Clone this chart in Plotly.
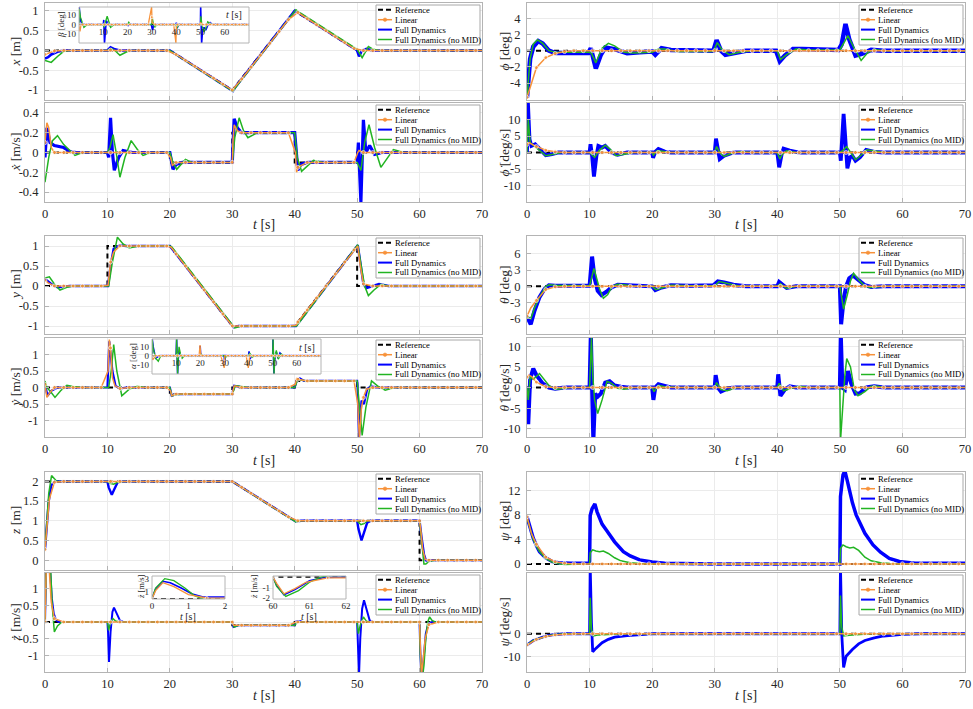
import plotly.graph_objects as go

FONT = "Liberation Serif"
W, H = 973, 709
BLACK = "#000000"
ORANGE = "#f7923a"
BLUE = "#0000ff"
GREEN = "#22b422"
GRID = "#ebebeb"
AXC = "#b4b4b4"
TXT = "#262626"

# ---------------- data ----------------
LIN_T = [0, 1.5, 3, 4.5, 6, 7.5, 9, 10.5, 12, 13.5,
         15, 16.5, 18, 19.5, 21, 22.5, 24, 25.5, 27, 28.5,
         30, 31.5, 33, 34.5, 36, 37.5, 39, 40.5, 42, 43.5,
         45, 46.5, 48, 49.5, 51, 52.5, 54, 55.5, 57, 58.5,
         60, 61.5, 63, 64.5, 66, 67.5, 69]

# x [m]
X_REF = [(0, 0), (20, 0), (30, -1), (40, 1), (50, 0), (70, 0)]
X_FULL = [(0, -0.2), (0.5, -0.17), (1, -0.1), (2, -0.03), (3, 0), (10, 0), (10.5, 0.08), (11.2, 0.03),
          (12, 0), (20, 0), (30.1, -1.02), (30.6, -0.9), (40, 1.0), (40.3, 0.98), (50, 0), (50.3, -0.15),
          (50.8, 0.0), (51.5, 0.04), (52.5, 0), (70, 0)]
X_NOMID = [(0, -0.25), (1, -0.3), (2, -0.15), (3, -0.02), (4, 0), (10, 0), (10.6, 0.05), (11.2, 0),
           (12, -0.12), (12.8, -0.05), (13.5, 0), (20, 0), (30.1, -1.03), (30.7, -0.9), (40.2, 1.03),
           (40.7, 0.97), (50, 0.03), (50.8, -0.18), (51.8, 0.1), (52.6, 0.03), (53.5, 0), (70, 0)]
X_LIN = [-0.1, -0.01, 0, 0, 0, 0, 0, 0.01, 0, 0,
         0, 0, 0, 0, -0.1, -0.25, -0.4, -0.55, -0.7, -0.85,
         -1.0, -0.72, -0.42, -0.12, 0.18, 0.48, 0.78, 0.96, 0.8, 0.65,
         0.5, 0.35, 0.2, 0.05, 0, 0, 0, 0, 0, 0,
         0, 0, 0, 0, 0, 0, 0]
X_LIN_EXTRA = []

# x-dot [m/s]
XD_REF = [(0, 0), (20, 0), (20, -0.1), (30, -0.1), (30, 0.2), (40, 0.2), (40, -0.1), (50, -0.1), (50, 0), (70, 0)]
XD_FULL = [(0, -0.05), (0.3, 0.25), (0.8, 0.1), (1.5, 0.07), (3, 0.05), (4, 0.01), (5, 0), (10, 0),
           (10.2, -0.05), (10.5, 0.35), (10.8, 0.0), (11.1, -0.18), (11.8, -0.05), (12.5, 0.02), (14, 0),
           (20, 0), (20.5, -0.17), (21, -0.12), (22, -0.1), (30, -0.1), (30.3, 0.34), (30.8, 0.25),
           (31.5, 0.2), (40, 0.2), (40.5, -0.18), (41, -0.12), (42, -0.1), (50, -0.1), (50.2, 0.1),
           (50.6, -0.5), (51.0, 0.33), (51.4, 0.0), (52.0, 0.07), (52.8, -0.02), (54, 0), (70, 0)]
XD_NOMID = [(0, -0.3), (0.6, -0.05), (1.2, 0.12), (2.0, 0.17), (3.0, 0.08), (4.8, -0.03), (6, 0), (10, 0),
            (10.4, 0.05), (10.9, 0.18), (11.4, 0.0), (12.0, -0.25), (12.8, -0.05), (13.8, 0.12),
            (14.8, 0.03), (15.7, -0.03), (17, 0), (20, 0), (20.5, -0.1), (21.1, -0.17), (22.5, -0.07),
            (23.5, -0.1), (30, -0.1), (30.4, 0.15), (31.1, 0.35), (31.8, 0.22), (32.5, 0.15), (34, 0.2),
            (40, 0.2), (40.4, -0.05), (41.1, -0.19), (43, -0.08), (44.5, -0.1), (50, -0.1), (50.6, -0.18),
            (51.2, 0.1), (51.9, 0.28), (52.8, 0.05), (53.8, -0.15), (55.8, 0.03), (57.5, 0), (70, 0)]
XD_LIN = [0.1, 0, 0, 0, 0, 0, 0, 0, 0, 0,
          0, 0, 0, 0, -0.1, -0.1, -0.1, -0.1, -0.1, -0.1,
          -0.1, 0.2, 0.2, 0.2, 0.2, 0.2, 0.2, -0.15, -0.1, -0.1,
          -0.1, -0.1, -0.1, -0.1, 0, 0, 0, 0, 0, 0,
          0, 0, 0, 0, 0, 0, 0]
XD_LIN_EXTRA = [(0.3, 0.3), (0.6, 0.25), (1.0, 0.05), (20.1, -0.05), (20.4, -0.13), (30.1, 0.1),
                (30.3, 0.28), (30.8, 0.22), (40.1, 0.0), (40.3, -0.2), (50.1, 0.0), (50.3, 0.02)]

# y [m]
Y_REF = [(0, 0), (10, 0), (10, 1), (20, 1), (30, -1), (40, -1), (50, 1), (50, 0), (70, 0)]
Y_FULL = [(0, 0.18), (0.5, 0.12), (1, 0.05), (2, -0.03), (3, -0.02), (4, 0), (10.1, 0), (10.5, 0.5),
          (11, 0.93), (12, 1.02), (13, 1.0), (20, 1.0), (30.2, -1.03), (31, -1.0), (40.2, -1.0),
          (50.1, 1.02), (50.5, 0.6), (51, 0.05), (51.5, -0.05), (52.5, 0.0), (53.5, 0.05), (55, 0), (70, 0)]
Y_NOMID = [(0, 0.2), (0.7, 0.23), (1.5, 0.05), (2.4, -0.1), (3.5, -0.03), (4.5, 0), (10.2, 0),
           (10.8, 0.6), (11.6, 1.22), (12.5, 1.05), (13.5, 0.95), (15, 1.0), (20, 1.0), (20.3, 0.98),
           (30.4, -1.05), (31.5, -1.0), (40.3, -1.0), (50.1, 1.03), (50.6, 0.55), (51.2, 0.0),
           (51.8, -0.24), (52.7, -0.1), (53.8, 0.04), (55, 0), (70, 0)]
Y_LIN = [0.15, 0, 0, 0, 0, 0, 0, 0.6, 1.0, 1.0,
         1.0, 1.0, 1.0, 1.0, 0.8, 0.5, 0.2, -0.1, -0.4, -0.7,
         -1.0, -1.0, -1.0, -1.0, -1.0, -1.0, -1.0, -0.9, -0.6, -0.3,
         0.0, 0.3, 0.6, 0.9, 0.05, 0, 0, 0, 0, 0,
         0, 0, 0, 0, 0, 0, 0]
Y_LIN_EXTRA = [(0.5, 0.08), (10.1, 0.02), (11, 0.85), (20.2, 0.97), (40.2, -0.98), (50.1, 1.0), (50.5, 0.5)]

# y-dot [m/s]
YD_REF = [(0, 0), (20, 0), (20, -0.2), (30, -0.2), (30, 0), (40, 0), (40, 0.2), (50, 0.2), (50, 0), (70, 0)]
YD_FULL = [(0, 0.1), (0.4, -0.25), (1, -0.1), (2, 0), (10, 0), (10.3, 1.4), (10.8, 0.5), (11.3, 0.05),
           (12, -0.03), (13, 0), (20, 0), (20.3, -0.25), (21, -0.2), (30, -0.2), (30.3, 0.05), (31, 0.02),
           (32, 0), (40, 0), (40.3, 0.2), (40.8, 0.28), (41.5, 0.2), (50, 0.2), (50.05, 0.1), (50.3, -1.5),
           (50.7, -0.4), (51.1, -0.5), (51.6, -0.05), (52.3, 0.05), (53, 0), (70, 0)]
YD_NOMID = [(0, 0.2), (0.3, 0.0), (1, -0.15), (1.6, -0.3), (2.5, -0.1), (3.5, 0.07), (4.5, 0.03), (6, 0),
            (10.2, 0), (10.6, 0.5), (11, 1.3), (11.5, 0.5), (12.3, -0.25), (13.5, -0.05), (14.8, 0.04),
            (16, 0), (20, 0), (20.3, -0.25), (21, -0.22), (22, -0.2), (30, -0.2), (30.5, 0.05),
            (31.5, 0.03), (32.5, 0), (40, 0), (40.5, 0.25), (41.2, 0.22), (42, 0.2), (50, 0.2),
            (50.5, -1.0), (50.8, -1.45), (51.4, -0.6), (52.3, 0.2), (53.4, 0.03), (54.5, -0.08), (56, 0), (70, 0)]
YD_LIN = [0.1, 0, 0, 0, 0, 0, 0, 1.2, -0.03, 0,
          0, 0, 0, 0, -0.2, -0.2, -0.2, -0.2, -0.2, -0.2,
          -0.2, 0, 0, 0, 0, 0, 0, 0.25, 0.2, 0.2,
          0.2, 0.2, 0.2, 0.2, -0.3, 0, 0, 0, 0, 0,
          0, 0, 0, 0, 0, 0, 0]
YD_LIN_EXTRA = [(0.3, -0.3), (0.8, -0.15), (10.1, 0.5), (10.3, 1.45), (10.8, 0.3), (11.2, 0.05),
                (20.1, -0.1), (20.3, -0.25), (30.1, -0.1), (30.3, 0.05), (40.1, 0.1), (40.3, 0.27),
                (50.1, -0.5), (50.35, -1.55), (50.7, -0.6), (51.5, -0.05)]

# z [m]
Z_REF = [(0, 2), (30, 2), (40, 1), (60, 1), (60, 0), (70, 0)]
Z_FULL = [(0, 0.27), (0.3, 0.8), (0.6, 1.5), (1, 1.9), (1.5, 1.98), (2, 2.0), (10, 2.0), (10.2, 1.85),
          (10.7, 1.66), (11.1, 1.8), (11.6, 1.97), (12.2, 2.0), (30, 2.0), (40.2, 0.98), (41, 1.0),
          (50, 1.0), (50.2, 0.8), (50.7, 0.5), (51.1, 0.7), (51.6, 0.95), (52.2, 1.0), (60, 1.0),
          (60.3, 0.6), (60.7, 0.15), (61, 0.0), (61.5, -0.02), (62, 0), (70, 0)]
Z_NOMID = [(0, 0.27), (0.3, 1.0), (0.6, 1.7), (1.05, 2.15), (1.4, 2.08), (1.9, 2.0), (10, 2.0),
           (10.4, 1.95), (11, 1.93), (11.5, 1.97), (12.5, 2.0), (30, 2.0), (40.2, 0.97), (41, 1.0),
           (50, 1.0), (50.6, 0.9), (51.1, 0.93), (51.6, 1.0), (60, 1.0), (60.3, 0.5), (60.7, -0.1),
           (61, -0.1), (61.5, -0.03), (62.5, 0), (70, 0)]
Z_LIN = [0.27, 1.98, 2, 2, 2, 2, 2, 2, 2, 2,
         2, 2, 2, 2, 2, 2, 2, 2, 2, 2,
         2, 1.85, 1.7, 1.55, 1.4, 1.25, 1.1, 1.0, 1, 1,
         1, 1, 1, 1, 1, 1, 1, 1, 1, 1,
         1, 0, 0, 0, 0, 0, 0]
Z_LIN_EXTRA = [(0.3, 0.9), (0.7, 1.55), (60.2, 0.75), (60.5, 0.28), (60.9, 0.02)]

# z-dot [m/s]
ZD_REF = [(0, 0), (30, 0), (30, -0.1), (40, -0.1), (40, 0), (70, 0)]
ZD_FULL = [(0, 0), (0.1, 1.5), (0.3, 2.6), (0.5, 2.4), (0.8, 1.6), (1.1, 0.7), (1.4, 0.25), (1.8, 0.05),
           (2.2, 0), (10, 0), (10.1, -0.3), (10.25, -1.2), (10.5, -0.3), (10.8, 0.3), (11.05, 0.43),
           (11.5, 0.25), (12, 0.05), (12.5, 0), (30, 0), (30.2, -0.15), (30.6, -0.12), (31, -0.1),
           (40, -0.1), (40.3, 0.03), (40.8, 0.03), (41.2, 0), (50, 0), (50.1, -0.5), (50.3, -1.6),
           (50.5, -0.5), (50.8, 0.4), (51.1, 0.65), (51.5, 0.35), (52, 0.05), (52.5, 0), (60, 0),
           (60.1, -0.8), (60.3, -1.7), (60.6, -1.2), (61, -0.35), (61.4, -0.05), (62, 0), (70, 0)]
ZD_NOMID = [(0, 0), (0.1, 1.6), (0.35, 3.0), (0.6, 2.7), (0.9, 1.6), (1.15, 0.5), (1.5, -0.3),
            (2.0, -0.12), (2.7, 0), (10, 0), (10.2, -0.25), (10.5, 0), (10.9, 0.1), (11.3, 0.03), (12, 0),
            (30, 0), (30.3, -0.15), (31, -0.1), (40, -0.1), (40.4, 0.0), (50, 0), (50.2, -0.35),
            (50.5, -0.1), (51, 0.15), (51.5, 0.02), (52, 0), (60, 0), (60.1, -0.9), (60.35, -1.85),
            (60.7, -1.3), (61, -0.5), (61.3, 0.0), (61.6, 0.15), (62, 0.05), (62.5, 0), (70, 0)]
ZD_LIN = [0, 0.1, 0, 0, 0, 0, 0, 0, 0, 0,
          0, 0, 0, 0, 0, 0, 0, 0, 0, 0,
          0, -0.1, -0.1, -0.1, -0.1, -0.1, -0.1, 0, 0, 0,
          0, 0, 0, 0, 0, 0, 0, 0, 0, 0,
          0, -0.08, 0, 0, 0, 0, 0]
ZD_LIN_EXTRA = [(0.1, 1.2), (0.3, 2.4), (0.6, 1.8), (1.0, 0.6), (30.2, -0.1), (40.2, 0), (60.1, -0.6),
                (60.3, -1.6), (60.6, -1.1), (60.9, -0.5)]

# phi [deg]
PHI_REF = [(0, 0), (70, 0)]
PHI_FULL = [(0, -5.8), (0.2, -3.5), (0.5, -1.0), (1.0, 0.5), (1.8, 1.2), (2.5, 0.9), (3.5, 0.0), (4.5, -0.3),
            (9.8, -0.3), (10.2, 0.3), (11.0, -2.2), (11.8, -0.5), (12.5, 0.4), (14, 0.2), (16, -0.3),
            (18, -0.2), (20, -0.1), (20.5, -0.5), (21.5, 0.3), (23, 0.1), (29.8, 0), (30.3, 1.3), (31, 0.0),
            (31.7, -0.5), (33, -0.3), (35, 0.0), (39.8, 0.0), (40.4, -1.3), (41.2, -0.6), (42.5, 0.2),
            (44, 0.2), (49.8, 0.1), (50.3, 0.8), (50.9, 3.3), (51.5, 1.4), (52.5, -0.6), (53.5, -0.4),
            (55, 0.1), (57, 0.0), (70, 0.0)]
PHI_NOMID = [(0, -5.8), (0.2, -3.5), (0.5, -1.0), (1.0, 0.8), (1.7, 1.35), (2.5, 0.9), (3.5, 0.0),
             (4.5, -0.2), (10, -0.2), (10.3, -0.3), (11.0, -1.5), (12, 0.3), (13, 0.9), (14, 0.6),
             (15.5, -0.2), (17, -0.3), (20, -0.2), (21, 0.2), (22, 0.2), (24, -0.1), (29.8, -0.1),
             (30.4, 1.0), (31.2, 0.1), (32.3, -0.5), (34, -0.2), (36, 0.0), (40, 0.0), (40.5, -1.1),
             (41.5, -0.5), (43, 0.2), (45, 0.1), (50, 0.1), (51.3, 1.85), (52.3, 0.3), (53.4, -1.2),
             (54.5, -0.2), (55.5, 0.15), (57, 0.0), (70, 0.0)]
PHI_LIN = [-5.8, -2.1, -0.85, -0.35, -0.1, 0, 0, 0, 0, 0,
           0, 0, 0, 0, 0, 0, 0, 0, 0, 0,
           0, 0, 0, 0, 0, 0, 0, 0, 0, 0,
           0, 0, 0, 0, 0, 0, 0, 0, 0, 0,
           0, 0, 0, 0, 0, 0, 0]
PHI_LIN_EXTRA = [(0.6, -4.2)]

# phi-dot [deg/s]
PHID_REF = [(0, 0), (70, 0)]
PHID_FULL = [(0, 0), (0.15, 15), (0.4, 4), (0.7, 2), (1.3, 2.5), (2, 1), (3, -0.8), (4, -0.5), (5, 0),
             (10, 0), (10.15, 2.5), (10.4, -1), (10.7, -7.3), (11.1, -1), (11.4, 2), (12, 1.5), (12.5, 2),
             (13.5, 0), (14.5, -0.7), (16, 0), (20, 0), (20.15, -1.6), (20.5, 0.2), (21, 1.1), (22, 0.3),
             (23, 0), (30, 0), (30.2, 4.2), (30.5, 0.5), (30.8, -2.0), (31.5, -1), (33, 0), (40, 0),
             (40.3, -4.5), (40.7, -0.5), (41, 1.2), (42, 0.6), (43.5, 0), (50, 0), (50.15, -2.5),
             (50.6, 11.7), (51.2, -4.8), (51.6, -1.5), (52, -1.0), (52.5, -2.5), (53.2, -1.5), (54.2, 0.8),
             (55.5, 0.2), (57, 0), (70, 0)]
PHID_NOMID = [(0, 0), (0.2, 10), (0.5, 3), (1, 2.2), (2, 0.5), (3, -1.0), (4, -0.6), (5.5, 0), (10, 0),
              (10.3, -0.5), (10.8, -1.5), (11.5, 0.5), (12.5, 2.2), (13.3, 1), (14.2, -1.0), (15.5, -0.5),
              (17, 0), (20, 0), (20.2, -0.8), (20.8, 0.6), (21.5, 0.4), (23, 0), (30, 0), (30.3, 1.8),
              (30.8, 0), (31.5, -1.2), (32.5, -0.4), (34, 0.2), (36, 0), (40, 0), (40.4, -2.0),
              (40.8, -0.5), (41.5, 0.5), (43, 0), (50, 0), (50.4, 0.5), (51.1, 1.8), (51.6, 0.5),
              (52.5, -2.2), (53.3, -1.0), (54.3, 0.8), (55.3, 0.5), (57, 0), (70, 0)]
PHID_LIN = [2.5, 1.8, 0.7, 0.2, 0, 0, 0, 0, 0, 0,
            0, 0, 0, 0, 0, 0, 0, 0, 0, 0,
            0, 0, 0, 0, 0, 0, 0, 0, 0, 0,
            0, 0, 0, 0, 0, 0, 0, 0, 0, 0,
            0, 0, 0, 0, 0, 0, 0]
PHID_LIN_EXTRA = [(0.3, 3.0), (0.8, 2.5)]

# theta [deg]
TH_REF = [(0, 0), (70, 0)]
TH_FULL = [(0, -5.6), (0.6, -7.0), (1.2, -4.5), (2, -2), (2.8, -0.5), (3.5, 0.2), (4.5, 0.1), (10, 0.1),
           (10.4, 5.5), (10.8, 1.5), (11.3, -0.8), (11.9, -1.6), (12.7, -1.0), (13.5, -0.2), (14.5, 0.3),
           (16, 0.2), (18, 0), (20, 0), (20.5, -0.7), (21.5, -0.2), (23, 0.2), (26, 0.1), (29.8, 0.2),
           (30.5, 0.9), (31.5, 0.7), (33, 0.3), (35, 0), (40, 0), (40.3, 0.8), (41, 0.1), (41.5, -0.3),
           (43, 0), (50, 0), (50.2, -7.0), (50.6, -2.5), (51.0, 0.0), (51.5, 1.5), (52.1, 2.0), (53, 1.2),
           (54, 0.2), (55, -0.1), (57, 0), (70, 0)]
TH_NOMID = [(0, -5.6), (0.6, -6), (1.2, -4), (2, -2), (3, 0.0), (3.6, 0.3), (4.5, 0.2), (10, 0.1),
            (10.7, 3.3), (11.1, 1.5), (11.6, -0.5), (12.2, -2.2), (12.9, -1.5), (13.6, 0), (14.5, 0.4),
            (15.5, 0.3), (17, 0), (20, 0), (20.6, -0.6), (21.5, -0.3), (23, 0.2), (26, 0.1), (30, 0.1),
            (30.7, 0.9), (32, 0.5), (34, 0), (40, 0), (40.5, 0.5), (41.5, -0.4), (43, 0), (50, 0),
            (50.3, -2.0), (50.6, -4.2), (51.2, -1.5), (51.7, 1.0), (52.2, 2.4), (53, 1.2), (54, 0.0),
            (55, -0.2), (57, 0), (70, 0)]
TH_LIN = [-5.5, -2.6, -0.6, -0.1, 0, 0, 0, 0, 0, 0,
          0, 0, 0, 0, 0, 0, 0, 0, 0, 0,
          0, 0, 0, 0, 0, 0, 0, 0, 0, 0,
          0, 0, 0, 0, 0, 0, 0, 0, 0, 0,
          0, 0, 0, 0, 0, 0, 0]
TH_LIN_EXTRA = [(0.6, -4.0)]

# theta-dot [deg/s]
THD_REF = [(0, 0), (70, 0)]
THD_FULL = [(0, 0), (0.2, -8.9), (0.5, 2), (1.0, 4.6), (1.5, 3), (2.5, 1.0), (3.5, 0), (4.5, -0.3), (6, 0),
            (10, 0), (10.2, 13), (10.35, 0), (10.6, -13), (10.9, -1.5), (11.3, -2.2), (11.8, -1.5),
            (12.5, 1.2), (13.2, 1.5), (14, 0.5), (15, 0.2), (16, 0), (20, 0), (20.2, -3), (20.5, 0),
            (21, 0.8), (22, 0.4), (23, 0), (30, 0), (30.15, 3.0), (30.5, 0), (31, -1.0), (32, -0.3),
            (33, 0), (40, 0), (40.15, 3.2), (40.5, -2.0), (41.2, -0.5), (42, 0.3), (43, 0), (50, 0),
            (50.15, 13), (50.4, 0), (50.8, -0.5), (51.3, 4), (51.8, 1), (52.5, -1.5), (53.2, -1.4),
            (54.2, 0), (55.5, 0.3), (57, 0), (70, 0)]
THD_NOMID = [(0, 0), (0.2, -3), (0.5, 2.5), (1.0, 2.0), (2.0, 3.4), (2.5, 2.5), (3.5, 0.5), (4.5, -0.5),
             (6, -0.3), (7, 0), (10, 0), (10.15, 8), (10.3, 12), (10.5, 3), (10.8, -3), (11.3, -6.3),
             (12, -3), (12.8, 1.5), (13.5, 1.0), (14.5, -0.2), (15.5, -0.4), (17, 0), (20, 0),
             (20.3, -1.0), (21, 0.5), (22, 0.2), (24, 0), (30, 0), (30.3, 1.2), (31, -0.5), (32, -0.8),
             (33.5, 0), (40, 0), (40.3, 1.0), (41, -0.8), (42, -0.3), (43.5, 0.3), (45, 0), (50, 0),
             (50.1, -13), (50.4, -5), (50.8, 3), (51.1, 7), (51.7, 5), (52.3, -0.5), (52.9, -2.0),
             (54, -1.0), (55, 0.3), (56, 0.3), (57, 0), (70, 0)]
THD_LIN = [2.5, 1.3, 0.2, 0, 0, 0, 0, 0, 0, 0,
           0, 0, 0, 0, 0, 0, 0, 0, 0, 0,
           0, 0, 0, 0, 0, 0, 0, 0, 0, 0,
           0, 0, 0, 0, 0, 0, 0, 0, 0, 0,
           0, 0, 0, 0, 0, 0, 0]
THD_LIN_EXTRA = [(0.3, 3.0), (0.8, 2.6)]

# psi [deg]
PSI_REF = [(0, 0), (70, 0)]
PSI_FULL = [(0, 7.7), (0.5, 5.8), (1, 4.2), (1.5, 3.0), (2, 2.0), (3, 1.0), (4, 0.4), (5, 0.2), (7, 0.1),
            (10, 0.1), (10.1, 7.9), (10.4, 9.0), (10.85, 9.8), (11.2, 8.5), (12, 6.5), (12.7, 5.5),
            (14, 3.6), (15.4, 2.0), (16.5, 1.3), (18, 0.65), (20, 0.3), (22, 0.1), (30, 0), (50, 0),
            (50.1, 11), (50.5, 14.5), (50.8, 15.2), (51.2, 13.5), (52, 10), (52.6, 8.0), (54, 5.0),
            (55.3, 3.1), (56.5, 1.9), (57.9, 0.9), (59.5, 0.4), (62, 0.1), (70, 0.1)]
PSI_NOMID = [(0, 7.5), (0.5, 5.6), (1, 4.0), (1.5, 2.9), (2, 2.0), (3, 0.9), (4, 0.3), (5, 0), (6, -0.1),
             (10, 0), (10.1, 1.8), (10.5, 2.3), (11, 2.1), (11.6, 2.0), (12.2, 2.1), (13, 1.7), (14, 1.0),
             (15, 0.5), (16.5, 0.2), (18, 0.05), (20, 0), (50, 0), (50.1, 2.5), (50.5, 3.1), (51, 2.8),
             (51.6, 2.6), (52.2, 2.7), (53, 2.2), (54, 1.1), (55, 0.5), (56.5, 0.2), (58, 0.05), (60, 0),
             (70, 0)]
PSI_LIN = [7.7, 3.2, 1.1, 0.35, 0.1, 0, 0, 0, 0, 0,
           0, 0, 0, 0, 0, 0, 0, 0, 0, 0,
           0, 0, 0, 0, 0, 0, 0, 0, 0, 0,
           0, 0, 0, 0, 0, 0, 0, 0, 0, 0,
           0, 0, 0, 0, 0, 0, 0]
PSI_LIN_EXTRA = [(0.7, 5.0)]

# psi-dot [deg/s]
PSID_REF = [(0, 0), (70, 0)]
PSID_FULL = [(0, -5), (0.5, -4), (1, -3), (2, -2), (3, -1), (4, -0.5), (6, 0), (10, 0), (10.1, 30),
             (10.3, 5), (10.5, -8), (11, -6.5), (12, -4), (13, -2.5), (14, -1.5), (16, -0.8), (18, -0.3),
             (20, 0), (50, 0), (50.1, 30), (50.3, 0), (50.6, -15), (51, -10), (52, -7), (53, -4.5),
             (54, -3), (55.5, -1.8), (57, -1), (60, -0.3), (63, 0), (70, 0)]
PSID_NOMID = [(0, -5), (0.5, -4), (1, -3), (2, -2), (3, -1.2), (4, -0.5), (6, 0), (10, 0), (10.1, 16),
              (10.3, 2), (10.6, -1), (11.5, -0.5), (13, -0.3), (15, 0), (50, 0), (50.1, 17), (50.3, 3),
              (50.6, -1), (51.5, -0.7), (53, -0.3), (55, 0), (70, 0)]
PSID_LIN = [-5, -2.5, -1.2, -0.5, -0.2, 0, 0, 0, 0, 0,
            0, 0, 0, 0, 0, 0, 0, 0, 0, 0,
            0, 0, 0, 0, 0, 0, 0, 0, 0, 0,
            0, 0, 0, 0, 0, 0, 0, 0, 0, 0,
            0, 0, 0, 0, 0, 0, 0]
PSID_LIN_EXTRA = []

# beta [deg] (inset of x)
BETA_REF = [(0, 0), (70, 0)]
BETA_FULL = [(0, 0), (0.1, 19), (0.4, 8), (0.8, 3), (1.5, 0.5), (2.5, 0), (10, 0), (10.2, 5), (10.5, -20),
             (10.8, -5), (11.2, 4), (11.8, 2), (12.5, -1), (13.5, 0), (20, 0), (20.3, -1.5), (20.8, 1),
             (21.5, 0), (29.8, 0), (30, -3), (30.3, -6), (30.7, -1), (31.5, 0), (39.8, 0), (40.1, 2),
             (40.4, -4), (41, 0), (50, 0), (50.1, 19), (50.3, 0), (50.5, -20), (50.9, -6), (51.5, -3),
             (52.2, -6), (53, -1), (54, 2), (55, 0), (70, 0)]
BETA_NOMID = [(0, 0), (0.1, 17), (0.6, 8), (1.2, 2), (2, -3), (3, -1), (4, 0), (10, 0), (10.3, -3),
              (10.8, 2), (11.6, 9), (12.3, 3), (13, -3), (14, -1), (15, 0), (20, 0), (20.5, 2.5), (21.2, 0),
              (29.9, 0), (30.2, 7), (30.6, 1), (31.2, -3), (32, 0), (40, 0), (40.3, -4), (40.8, -1),
              (41.5, 0), (50, 0), (50.2, 9), (50.6, 0), (51.4, -8), (52.2, -4), (53, 3), (54, 1), (55, 0),
              (70, 0)]
BETA_LIN = [0, 0, 0, 0, 0, 0, 0, 0, 0, 0,
            0, 0, 0, 0, 0, 0, 0, 0, 0, 0,
            8, 0, 0, 0, 0, 0, 0, 0, 0, 0,
            0, 0, 0, 0, 0, 0, 0, 0, 0, 0,
            0, 0, 0, 0, 0, 0, 0]
BETA_LIN_EXTRA = [(0.4, -7.5), (0.8, -1), (29.9, 19), (30.1, 2), (39.9, -20), (40.1, -2), (50.1, 2)]

# alpha [deg] (inset of y-dot)
ALPHA_REF = [(0, 0), (70, 0)]
ALPHA_FULL = [(0, 0), (0.1, 19), (0.5, 10), (1, 2), (1.5, -3), (2.5, -1), (3.5, 0), (10, 0), (10.2, 19),
              (10.4, 0), (10.6, -21), (10.9, -3), (11.3, 4), (12, 0), (19.8, 0), (19.95, 11), (20.2, 0),
              (29.9, 0), (30.1, -9), (30.4, 0), (40, 0), (40.2, 5), (40.6, -4), (41.2, 0), (50, 0),
              (50.1, 19), (50.3, 0), (50.5, -21), (50.8, -5), (51.5, 4), (52.2, -3), (53, 3), (54, 0), (70, 0)]
ALPHA_NOMID = [(0, 0), (0.1, 18), (0.5, 8), (1.5, -3), (2.6, -6.4), (3.3, -2), (4, 0), (10, 0), (10.2, 19),
               (10.45, 0), (10.6, -21), (10.9, 0), (11.2, 10), (11.8, 2), (12.5, -3), (13.5, 0), (20, 0),
               (20.3, 2), (20.8, 0), (30, 0), (30.3, -3), (31, 0), (40, 0), (40.5, 3), (41.5, -2), (42.5, 0),
               (50, 0), (50.15, 19), (50.35, 0), (50.55, -21), (50.9, 0), (51.5, 6), (52.3, -4), (53.5, 2),
               (54.5, 0), (70, 0)]
ALPHA_LIN = [0, 0, 0, 0, 0, 0, 0, 0, 0, 0,
             0, 0, 0, 0, 0, 0, 0, 0, 0, 0,
             -7, 0, 0, 0, 0, 0, 0, 0, 0, 0,
             0, 0, 0, 0, 0, 0, 0, 0, 0, 0,
             0, 0, 0, 0, 0, 0, 0]
ALPHA_LIN_EXTRA = [(0.3, -5), (19.9, 12), (20.2, 0), (29.9, -14), (30.2, 0), (39.9, -14), (40.2, 0)]

LEGEND_NAMES = ["Reference", "Linear", "Full Dynamics", "Full Dynamics (no MID)"]
T_TICKS = [0, 10, 20, 30, 40, 50, 60, 70]

# ---------------- helpers ----------------
def px(x):
    return x / W


def py(y):
    return 1 - y / H


def split(pairs):
    return [p[0] for p in pairs], [p[1] for p in pairs]


def fmt(v):
    return "%g" % v


def axn(n, k):
    return k if n == 1 else f"{k}{n}"


fig = go.Figure()
shapes = []
annotations = []
layout = {}
GRID_SET = set(LIN_T)


def add_series(n, ref, full, nomid, lin_vals, lin_extra, bw, lw=1.5, mk=4, refw=2):
    xa, ya = axn(n, "x"), axn(n, "y")
    t, v = split(ref)
    fig.add_trace(go.Scatter(x=t, y=v, xaxis=xa, yaxis=ya, mode="lines", showlegend=False, hoverinfo="skip",
                             line=dict(color=BLACK, width=refw, dash="5px,4px")))
    t, v = split(full)
    fig.add_trace(go.Scatter(x=t, y=v, xaxis=xa, yaxis=ya, mode="lines", showlegend=False, hoverinfo="skip",
                             line=dict(color=BLUE, width=bw)))
    t, v = split(nomid)
    fig.add_trace(go.Scatter(x=t, y=v, xaxis=xa, yaxis=ya, mode="lines", showlegend=False, hoverinfo="skip",
                             line=dict(color=GREEN, width=lw)))
    pts = sorted(list(zip(LIN_T, lin_vals)) + list(lin_extra) + [(70, lin_vals[-1])])
    t, v = split(pts)
    sizes = [mk if (tt in GRID_SET) else 0 for tt in t]
    fig.add_trace(go.Scatter(x=t, y=v, xaxis=xa, yaxis=ya, mode="lines+markers", showlegend=False,
                             hoverinfo="skip", line=dict(color=ORANGE, width=lw),
                             marker=dict(color=ORANGE, size=sizes, symbol="circle")))


def add_main_axes(n, xl, xr, yt, yb, yr, yticks, show_x):
    xk = "xaxis" if n == 1 else f"xaxis{n}"
    yk = "yaxis" if n == 1 else f"yaxis{n}"
    layout[xk] = dict(domain=[px(xl), px(xr)], range=[0, 70], anchor=axn(n, "y"), tickvals=T_TICKS,
                      ticktext=[fmt(v) for v in T_TICKS], showticklabels=show_x, showgrid=True,
                      gridcolor=GRID, gridwidth=1, showline=True, mirror=True, linecolor=AXC, linewidth=1,
                      ticks="inside", ticklen=4, tickcolor=AXC, zeroline=False, automargin=False,
                      tickfont=dict(family=FONT, size=12.5, color=TXT), fixedrange=True)
    layout[yk] = dict(domain=[py(yb), py(yt)], range=yr, anchor=axn(n, "x"), tickvals=yticks,
                      ticktext=[fmt(v) for v in yticks], showgrid=True, gridcolor=GRID, gridwidth=1,
                      showline=True, mirror=True, linecolor=AXC, linewidth=1, ticks="inside", ticklen=4,
                      tickcolor=AXC, zeroline=False, ticklabelstandoff=3, automargin=False,
                      tickfont=dict(family=FONT, size=12.5, color=TXT), fixedrange=True)


def add_legend(x_right, y_top):
    x0 = x_right - 106
    x1 = x_right - 2
    shapes.append(dict(type="rect", xref="paper", yref="paper", x0=px(x0), x1=px(x1), y0=py(y_top + 42),
                       y1=py(y_top + 2), line=dict(color="#a8a8a8", width=1), fillcolor="white", layer="above"))
    styles = [(BLACK, "5px,3px", 2), (ORANGE, "solid", 1.5), (BLUE, "solid", 2), (GREEN, "solid", 1.5)]
    for i, name in enumerate(LEGEND_NAMES):
        yy = y_top + 6.8 + 9.9 * i
        col, dash, wdt = styles[i]
        shapes.append(dict(type="line", xref="paper", yref="paper", x0=px(x0 + 2), x1=px(x0 + 16),
                           y0=py(yy), y1=py(yy), line=dict(color=col, width=wdt, dash=dash), layer="above"))
        if name == "Linear":
            shapes.append(dict(type="circle", xref="paper", yref="paper", x0=px(x0 + 7.2), x1=px(x0 + 10.8),
                               y0=py(yy + 1.8), y1=py(yy - 1.8), fillcolor=ORANGE,
                               line=dict(color=ORANGE, width=0.5), layer="above"))
        annotations.append(dict(x=px(x0 + 16.5), y=py(yy), xref="paper", yref="paper", xanchor="left",
                                yanchor="middle", text=name, showarrow=False,
                                font=dict(family=FONT, size=8.6, color="#000")))


def add_ylabel(x, y, text, size=13.5):
    annotations.append(dict(x=px(x), y=py(y), xref="paper", yref="paper", text=text, textangle=-90,
                            showarrow=False, xanchor="center", yanchor="middle",
                            font=dict(family=FONT, size=size, color=TXT)))


def add_text(x, y, text, size=13.5):
    annotations.append(dict(x=px(x), y=py(y), xref="paper", yref="paper", text=text, showarrow=False,
                            xanchor="center", yanchor="middle", font=dict(family=FONT, size=size, color=TXT)))


# ---------------- main panels ----------------
LX0, LX1 = 45, 482
RX0, RX1 = 527, 965
ROWS = [(3, 100), (103, 202), (236, 334), (338, 437), (472, 570), (573, 672)]

PANELS = [
    # n, col, row, ref, full, nomid, lin, extra, yrange, yticks, label, blue width
    (1, 0, 0, X_REF, X_FULL, X_NOMID, X_LIN, X_LIN_EXTRA, [-1.25, 1.2], [-1, -0.5, 0, 0.5, 1], "<i>x</i> [m]", 2.6),
    (2, 0, 1, XD_REF, XD_FULL, XD_NOMID, XD_LIN, XD_LIN_EXTRA, [-0.5, 0.5], [-0.4, -0.2, 0, 0.2, 0.4],
     "<i>x\u0307</i> [m/s]", 3.2),
    (3, 0, 2, Y_REF, Y_FULL, Y_NOMID, Y_LIN, Y_LIN_EXTRA, [-1.2, 1.25], [-1, -0.5, 0, 0.5, 1], "<i>y</i> [m]", 2.4),
    (4, 0, 3, YD_REF, YD_FULL, YD_NOMID, YD_LIN, YD_LIN_EXTRA, [-1.5, 1.5], [-1, -0.5, 0, 0.5, 1],
     "<i>y\u0307</i> [m/s]", 2.2),
    (5, 0, 4, Z_REF, Z_FULL, Z_NOMID, Z_LIN, Z_LIN_EXTRA, [-0.25, 2.24], [0, 0.5, 1, 1.5, 2], "<i>z</i> [m]", 2.4),
    (6, 0, 5, ZD_REF, ZD_FULL, ZD_NOMID, ZD_LIN, ZD_LIN_EXTRA, [-1.5, 1.47], [-1, -0.5, 0, 0.5, 1],
     "<i>z\u0307</i> [m/s]", 2.0),
    (7, 1, 0, PHI_REF, PHI_FULL, PHI_NOMID, PHI_LIN, PHI_LIN_EXTRA, [-6.1, 5.9], [-4, -2, 0, 2, 4],
     "<i>\u03d5</i> [deg]", 4.5),
    (8, 1, 1, PHID_REF, PHID_FULL, PHID_NOMID, PHID_LIN, PHID_LIN_EXTRA, [-15, 15], [-10, -5, 0, 5, 10],
     "<i>\u03d5\u0307</i> [deg/s]", 3.8),
    (9, 1, 2, TH_REF, TH_FULL, TH_NOMID, TH_LIN, TH_LIN_EXTRA, [-8.8, 9.3], [-6, -3, 0, 3, 6],
     "<i>\u03b8</i> [deg]", 4.0),
    (10, 1, 3, THD_REF, THD_FULL, THD_NOMID, THD_LIN, THD_LIN_EXTRA, [-12, 12], [-10, -5, 0, 5, 10],
     "<i>\u03b8\u0307</i> [deg/s]", 4.0),
    (11, 1, 4, PSI_REF, PSI_FULL, PSI_NOMID, PSI_LIN, PSI_LIN_EXTRA, [-1, 15], [0, 4, 8, 12],
     "<i>\u03c8</i> [deg]", 3.5),
    (12, 1, 5, PSID_REF, PSID_FULL, PSID_NOMID, PSID_LIN, PSID_LIN_EXTRA, [-17, 27], [-10, 0],
     "<i>\u03c8\u0307</i> [deg/s]", 2.8),
]

for (n, col, row, ref, full, nomid, lin, extra, yr, yt, label, bw) in PANELS:
    xl, xr = (LX0, LX1) if col == 0 else (RX0, RX1)
    ytop, ybot = ROWS[row]
    add_main_axes(n, xl, xr, ytop, ybot, yr, yt, row % 2 == 1)
    add_series(n, ref, full, nomid, lin, extra, bw)
    add_legend(xr, ytop)
    add_ylabel(15 if col == 0 else 504, (ytop + ybot) / 2, label)
    if row % 2 == 1:
        add_text((xl + xr) / 2, ybot + 23, "<i>t</i> [s]", 14)

# ---------------- insets ----------------
def add_inset_axes(n, xl, xr, yt, yb, xrng, yrng, xticks, yticks, free_pos=None, tsize=9):
    xk, yk = f"xaxis{n}", f"yaxis{n}"
    xd = dict(domain=[px(xl), px(xr)], range=xrng, anchor=f"y{n}", tickvals=xticks,
              ticktext=[fmt(v) for v in xticks], showgrid=False, showline=False, ticks="", zeroline=False,
              automargin=False, tickfont=dict(family=FONT, size=tsize, color=TXT), fixedrange=True)
    if free_pos is not None:
        xd.update(anchor="free", position=py(free_pos))
    layout[xk] = xd
    layout[yk] = dict(domain=[py(yb), py(yt)], range=yrng, anchor=f"x{n}", tickvals=yticks,
                      ticktext=[fmt(v) for v in yticks], showgrid=False, showline=False, ticks="",
                      zeroline=False, ticklabelstandoff=2, automargin=False,
                      tickfont=dict(family=FONT, size=tsize, color=TXT), fixedrange=True)
    shapes.append(dict(type="rect", xref="paper", yref="paper", x0=px(xl), x1=px(xr), y0=py(yb), y1=py(yt),
                       line=dict(color=AXC, width=1), layer="above"))


# beta inset in x panel
add_inset_axes(13, 79, 249, 7, 43, [0, 70], [-20, 19], [10, 20, 30, 40, 50, 60], [-10, 0, 10], free_pos=24.5)
add_series(13, BETA_REF, BETA_FULL, BETA_NOMID, BETA_LIN, BETA_LIN_EXTRA, 1.6, lw=1.3, mk=3, refw=1.5)
add_ylabel(61, 25, "<i>\u03b2</i> [deg]", 9)
add_text(234, 14.5, "<i>t</i> [s]", 10)

# alpha inset in y-dot panel
add_inset_axes(14, 152, 321, 339, 374, [0, 70], [-21, 19], [10, 20, 30, 40, 50, 60], [-10, 0, 10],
               free_pos=355.8)
add_series(14, ALPHA_REF, ALPHA_FULL, ALPHA_NOMID, ALPHA_LIN, ALPHA_LIN_EXTRA, 1.6, lw=1.3, mk=3, refw=1.5)
add_ylabel(133, 356, "<i>\u03b1</i> [deg]", 9)
add_text(307, 347, "<i>t</i> [s]", 10)

# z-dot insets
add_inset_axes(15, 152, 225, 576, 599, [0, 2], [-0.05, 3.4], [0, 1, 2], [1, 3])
add_series(15, ZD_REF, ZD_FULL, ZD_NOMID, ZD_LIN, ZD_LIN_EXTRA, 1.6, lw=1.3, mk=3, refw=1.5)
add_ylabel(141, 587, "<i>z\u0307</i> [m/s]", 8.5)
add_text(188, 616, "<i>t</i> [s]", 10)

add_inset_axes(16, 273, 346, 576, 599, [60, 62], [-2.1, 0.1], [60, 61, 62], [-2, -1])
add_series(16, ZD_REF, ZD_FULL, ZD_NOMID, ZD_LIN, ZD_LIN_EXTRA, 1.6, lw=1.3, mk=3, refw=1.5)
add_ylabel(254, 587, "<i>z\u0307</i> [m/s]", 8.5)
add_text(309, 616, "<i>t</i> [s]", 10)

fig.update_layout(
    template="none",
    width=W, height=H, margin=dict(l=0, r=0, t=0, b=0, autoexpand=False), paper_bgcolor="white",
    plot_bgcolor="white", showlegend=False, shapes=shapes, annotations=annotations,
    font=dict(family=FONT, color=TXT), **layout
)
fig.write_html("out.html", config={"displayModeBar": False, "staticPlot": True},
               post_script="document.body.style.margin='0';document.body.style.padding='0';")
